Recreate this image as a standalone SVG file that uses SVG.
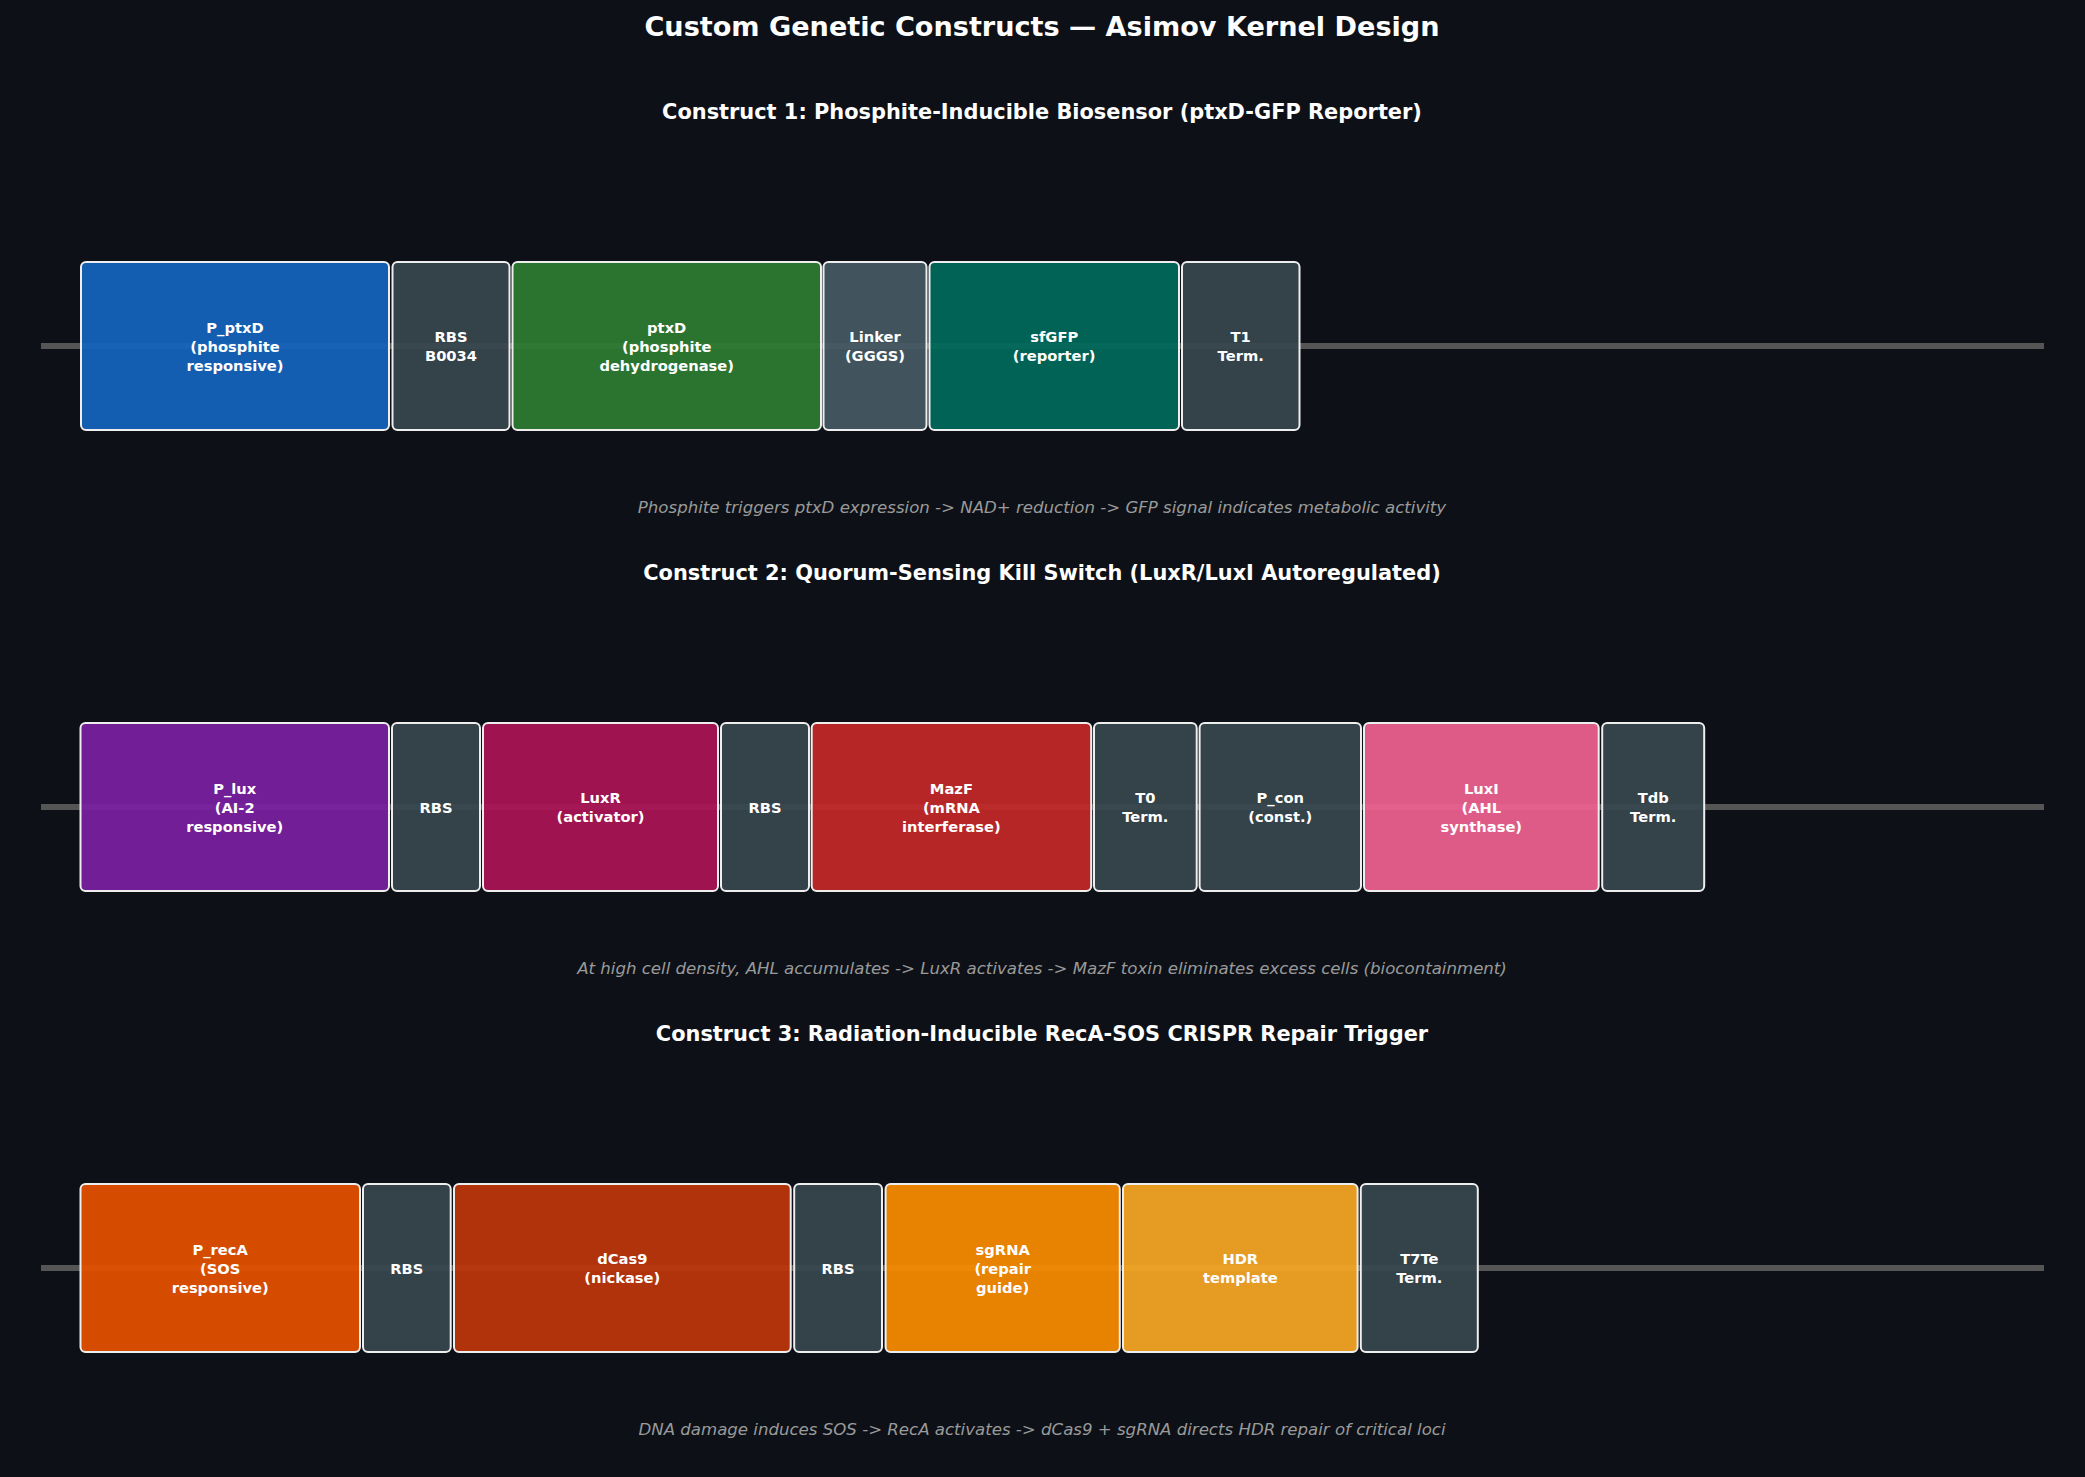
<svg xmlns="http://www.w3.org/2000/svg" width="2085" height="1477" viewBox="0 0 2085 1477">
<defs>
<style>
.bg{fill:#0d1117}
.bb{stroke:#555555;stroke-width:6;fill:none}
.part{stroke:#eeeeee;stroke-width:2;fill-opacity:0.92}
.lbl{font-family:"DejaVu Sans",sans-serif;font-weight:bold;font-size:14.7px;fill:#ffffff;text-anchor:middle}
.title{font-family:"DejaVu Sans",sans-serif;font-weight:bold;font-size:27.1px;fill:#ffffff;text-anchor:middle}
.ctitle{font-family:"DejaVu Sans",sans-serif;font-weight:bold;font-size:20.9px;fill:#ffffff;text-anchor:middle}
.cap{font-family:"DejaVu Sans",sans-serif;font-style:italic;font-size:16.6px;fill:#9a9a9a;text-anchor:middle}
</style>
</defs>
<rect class="bg" x="0" y="0" width="2085" height="1477"/>
<text class="title" x="1042" y="36">Custom Genetic Constructs — Asimov Kernel Design</text>

<g id="connectors">
<line class="bb" x1="41" y1="346" x2="2044" y2="346"/>
<line class="bb" x1="41" y1="807" x2="2044" y2="807"/>
<line class="bb" x1="41" y1="1268" x2="2044" y2="1268"/>
</g>

<g id="construct1">
<text class="ctitle" x="1042" y="119">Construct 1: Phosphite-Inducible Biosensor (ptxD-GFP Reporter)</text>
<g id="c1_P_ptxD"><rect class="part" x="81" y="262" width="308" height="168" rx="5" fill="#1565C0"/>
<text class="lbl" x="235" y="332.6">P_ptxD</text><text class="lbl" x="235" y="351.6">(phosphite</text><text class="lbl" x="235" y="370.6">responsive)</text></g>
<g id="c1_RBS"><rect class="part" x="392.5" y="262" width="117" height="168" rx="5" fill="#37474F"/>
<text class="lbl" x="451" y="342">RBS</text><text class="lbl" x="451" y="361">B0034</text></g>
<g id="c1_ptxD"><rect class="part" x="512.5" y="262" width="308.5" height="168" rx="5" fill="#2E7D32"/>
<text class="lbl" x="666.7" y="332.6">ptxD</text><text class="lbl" x="666.7" y="351.6">(phosphite</text><text class="lbl" x="666.7" y="370.6">dehydrogenase)</text></g>
<g id="c1_Linker"><rect class="part" x="823.5" y="262" width="103" height="168" rx="5" fill="#455A64"/>
<text class="lbl" x="875" y="342">Linker</text><text class="lbl" x="875" y="361">(GGGS)</text></g>
<g id="c1_sfGFP"><rect class="part" x="929.5" y="262" width="249.5" height="168" rx="5" fill="#00695C"/>
<text class="lbl" x="1054.2" y="342">sfGFP</text><text class="lbl" x="1054.2" y="361">(reporter)</text></g>
<g id="c1_T1"><rect class="part" x="1182" y="262" width="117.5" height="168" rx="5" fill="#37474F"/>
<text class="lbl" x="1240.7" y="342">T1</text><text class="lbl" x="1240.7" y="361">Term.</text></g>
<text class="cap" x="1042" y="513.3">Phosphite triggers ptxD expression -&gt; NAD+ reduction -&gt; GFP signal indicates metabolic activity</text>
</g>

<g id="construct2">
<text class="ctitle" x="1042" y="580">Construct 2: Quorum-Sensing Kill Switch (LuxR/LuxI Autoregulated)</text>
<g id="c2_P_lux"><rect class="part" x="80.5" y="723" width="308.5" height="168" rx="5" fill="#7B1FA2"/>
<text class="lbl" x="234.7" y="793.6">P_lux</text><text class="lbl" x="234.7" y="812.6">(AI-2</text><text class="lbl" x="234.7" y="831.6">responsive)</text></g>
<g id="c2_RBS1"><rect class="part" x="392" y="723" width="88" height="168" rx="5" fill="#37474F"/>
<text class="lbl" x="436" y="812.6">RBS</text></g>
<g id="c2_LuxR"><rect class="part" x="483" y="723" width="235" height="168" rx="5" fill="#AD1457"/>
<text class="lbl" x="600.5" y="803">LuxR</text><text class="lbl" x="600.5" y="822">(activator)</text></g>
<g id="c2_RBS2"><rect class="part" x="721" y="723" width="88" height="168" rx="5" fill="#37474F"/>
<text class="lbl" x="765" y="812.6">RBS</text></g>
<g id="c2_MazF"><rect class="part" x="811.7" y="723" width="279.5" height="168" rx="5" fill="#C62828"/>
<text class="lbl" x="951.4" y="793.6">MazF</text><text class="lbl" x="951.4" y="812.6">(mRNA</text><text class="lbl" x="951.4" y="831.6">interferase)</text></g>
<g id="c2_T0"><rect class="part" x="1094" y="723" width="102.7" height="168" rx="5" fill="#37474F"/>
<text class="lbl" x="1145.3" y="803">T0</text><text class="lbl" x="1145.3" y="822">Term.</text></g>
<g id="c2_P_con"><rect class="part" x="1199.6" y="723" width="161.4" height="168" rx="5" fill="#37474F"/>
<text class="lbl" x="1280.3" y="803">P_con</text><text class="lbl" x="1280.3" y="822">(const.)</text></g>
<g id="c2_LuxI"><rect class="part" x="1364" y="723" width="234.7" height="168" rx="5" fill="#F06292"/>
<text class="lbl" x="1481.3" y="793.6">LuxI</text><text class="lbl" x="1481.3" y="812.6">(AHL</text><text class="lbl" x="1481.3" y="831.6">synthase)</text></g>
<g id="c2_Tdb"><rect class="part" x="1602.2" y="723" width="102" height="168" rx="5" fill="#37474F"/>
<text class="lbl" x="1653.2" y="803">Tdb</text><text class="lbl" x="1653.2" y="822">Term.</text></g>
<text class="cap" x="1042" y="974.3">At high cell density, AHL accumulates -&gt; LuxR activates -&gt; MazF toxin eliminates excess cells (biocontainment)</text>
</g>

<g id="construct3">
<text class="ctitle" x="1042" y="1041">Construct 3: Radiation-Inducible RecA-SOS CRISPR Repair Trigger</text>
<g id="c3_P_recA"><rect class="part" x="80.5" y="1184" width="279.5" height="168" rx="5" fill="#E65100"/>
<text class="lbl" x="220.2" y="1254.6">P_recA</text><text class="lbl" x="220.2" y="1273.6">(SOS</text><text class="lbl" x="220.2" y="1292.6">responsive)</text></g>
<g id="c3_RBS1"><rect class="part" x="363" y="1184" width="87.7" height="168" rx="5" fill="#37474F"/>
<text class="lbl" x="406.8" y="1273.6">RBS</text></g>
<g id="c3_dCas9"><rect class="part" x="454" y="1184" width="336.7" height="168" rx="5" fill="#BF360C"/>
<text class="lbl" x="622.3" y="1264">dCas9</text><text class="lbl" x="622.3" y="1283">(nickase)</text></g>
<g id="c3_RBS2"><rect class="part" x="794.2" y="1184" width="87.8" height="168" rx="5" fill="#37474F"/>
<text class="lbl" x="838.1" y="1273.6">RBS</text></g>
<g id="c3_sgRNA"><rect class="part" x="885.6" y="1184" width="234.2" height="168" rx="5" fill="#FB8C00"/>
<text class="lbl" x="1002.7" y="1254.6">sgRNA</text><text class="lbl" x="1002.7" y="1273.6">(repair</text><text class="lbl" x="1002.7" y="1292.6">guide)</text></g>
<g id="c3_HDR"><rect class="part" x="1123" y="1184" width="234.6" height="168" rx="5" fill="#F9A825"/>
<text class="lbl" x="1240.3" y="1264">HDR</text><text class="lbl" x="1240.3" y="1283">template</text></g>
<g id="c3_T7Te"><rect class="part" x="1360.8" y="1184" width="117" height="168" rx="5" fill="#37474F"/>
<text class="lbl" x="1419.3" y="1264">T7Te</text><text class="lbl" x="1419.3" y="1283">Term.</text></g>
<text class="cap" x="1042" y="1435.3">DNA damage induces SOS -&gt; RecA activates -&gt; dCas9 + sgRNA directs HDR repair of critical loci</text>
</g>
</svg>
